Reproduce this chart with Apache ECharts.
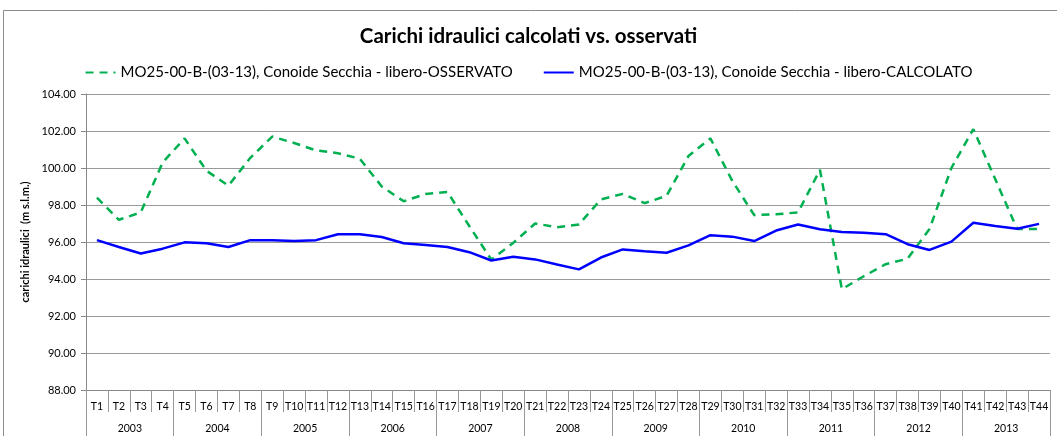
<!DOCTYPE html>
<html>
<head>
<meta charset="utf-8">
<script src="https://cdn.jsdelivr.net/npm/echarts@6/dist/echarts.min.js"></script>
<style>
  html, body { margin: 0; padding: 0; background: #fff; }
  #chart { width: 1057px; height: 436px; }
</style>
</head>
<body>
<div id="chart"></div>
<script>
const quarters = ['T1','T2','T3','T4','T5','T6','T7','T8','T9','T10','T11','T12','T13','T14','T15','T16',
  'T17','T18','T19','T20','T21','T22','T23','T24','T25','T26','T27','T28','T29','T30','T31','T32',
  'T33','T34','T35','T36','T37','T38','T39','T40','T41','T42','T43','T44'];
const years = ['2003','2004','2005','2006','2007','2008','2009','2010','2011','2012','2013'];

const observed = [98.40, 97.20, 97.60, 100.30, 101.60, 99.85, 99.05, 100.55, 101.70, 101.35, 100.95, 100.80,
  100.50, 99.00, 98.20, 98.60, 98.70, 96.85, 95.05, 95.95, 97.00, 96.80, 96.95, 98.30,
  98.60, 98.10, 98.50, 100.65, 101.60, 99.30, 97.45, 97.50, 97.60, 99.90, 93.45, 94.15,
  94.80, 95.10, 96.70, 100.00, 102.10, 99.40, 96.70, 96.70];
const calculated = [96.10, 95.73, 95.38, 95.64, 95.98, 95.93, 95.73, 96.10, 96.10, 96.05, 96.10, 96.42,
  96.42, 96.27, 95.93, 95.84, 95.73, 95.45, 95.00, 95.20, 95.06, 94.78, 94.52, 95.16,
  95.60, 95.50, 95.42, 95.82, 96.37, 96.29, 96.05, 96.62, 96.95, 96.69, 96.54, 96.50,
  96.42, 95.88, 95.57, 96.02, 97.04, 96.86, 96.72, 96.98];

const nameObs = 'MO25-00-B-(03-13), Conoide Secchia - libero-OSSERVATO';
const nameCalc = 'MO25-00-B-(03-13), Conoide Secchia - libero-CALCOLATO';

const chart = echarts.init(document.getElementById('chart'));
const font = 'Lato, "Liberation Sans", sans-serif';

chart.setOption({
  animation: false,
  textStyle: { fontFamily: font },
  title: {
    text: 'Carichi idraulici calcolati vs. osservati',
    left: 'center',
    top: 21,
    textStyle: { fontFamily: font, fontSize: 20.5, fontWeight: 'bold', color: '#000' }
  },
  legend: {
    top: 60,
    left: 'center',
    itemWidth: 30,
    itemHeight: 10,
    itemGap: 30,
    itemStyle: { opacity: 0 },
    textStyle: { fontFamily: font, fontSize: 15, color: '#000' },
    data: [nameObs, nameCalc]
  },
  graphic: [{
    type: 'rect',
    shape: { x: 3.5, y: 10.5, width: 1070, height: 440 },
    style: { fill: 'none', stroke: '#8c8c8c', lineWidth: 1 },
    silent: true
  }],
  grid: { left: 86, right: 7, top: 94, bottom: 46 },
  xAxis: [{
    type: 'category',
    data: quarters,
    boundaryGap: true,
    axisLine: { lineStyle: { color: '#888', width: 1 } },
    axisTick: { show: true, length: 22, interval: 0, lineStyle: { color: '#999' } },
    axisLabel: { interval: 0, margin: 11, fontSize: 10.5, color: '#000', fontFamily: font }
  }, {
    type: 'category',
    data: years,
    position: 'bottom',
    offset: 22,
    boundaryGap: true,
    axisLine: { show: false },
    axisTick: { show: true, length: 24, interval: 0, lineStyle: { color: '#999' } },
    axisLabel: { interval: 0, margin: 11, fontSize: 10.5, color: '#000', fontFamily: font }
  }],
  yAxis: {
    type: 'value',
    min: 88,
    max: 104,
    interval: 2,
    name: 'carichi idraulici  (m s.l.m.)',
    nameLocation: 'middle',
    nameGap: 53,
    nameRotate: 90,
    nameTextStyle: { fontSize: 11, fontWeight: 'bold', color: '#000', fontFamily: font },
    axisLine: { show: true, lineStyle: { color: '#888' } },
    axisTick: { show: true, length: 5, lineStyle: { color: '#888' } },
    axisLabel: { formatter: v => v.toFixed(2), fontSize: 11, color: '#000', margin: 10, fontFamily: font },
    splitLine: { lineStyle: { color: '#9a9a9a', width: 1 } }
  },
  series: [{
    name: nameObs,
    type: 'line',
    data: observed,
    symbol: 'none',
    lineStyle: { color: '#00B050', width: 2.5, type: [8, 6] },
    itemStyle: { color: '#00B050' }
  }, {
    name: nameCalc,
    type: 'line',
    data: calculated,
    symbol: 'none',
    lineStyle: { color: '#0000FF', width: 2.5 },
    itemStyle: { color: '#0000FF' }
  }]
});
</script>
</body>
</html>
